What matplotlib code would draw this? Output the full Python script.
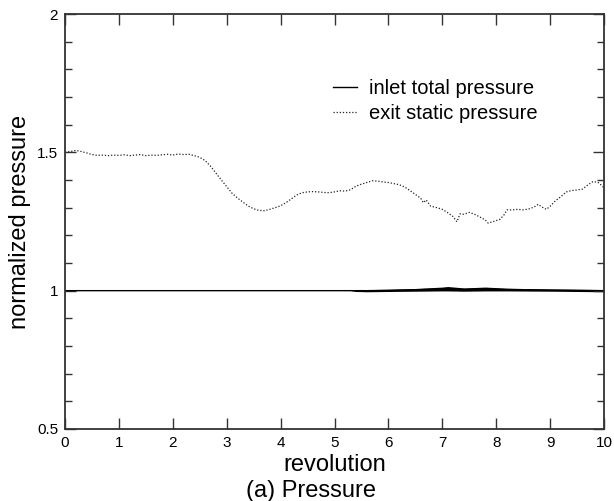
import matplotlib
matplotlib.use("Agg")
import matplotlib.pyplot as plt
from matplotlib.ticker import MultipleLocator

plt.rcParams['font.family'] = ['Liberation Sans', 'DejaVu Sans']

# exit static pressure
exit_rev = [0.0, 0.1, 0.2, 0.3, 0.4, 0.5, 0.6, 0.7, 0.8, 0.9, 1.0, 1.1, 1.2, 1.3,
            1.4, 1.5, 1.6, 1.7, 1.8, 1.9, 2.0, 2.1, 2.2, 2.3, 2.4, 2.5, 2.6, 2.7,
            2.8, 2.9, 3.0, 3.1, 3.2, 3.3, 3.4, 3.5, 3.6, 3.7, 3.8, 3.9, 4.0, 4.1,
            4.2, 4.3, 4.4, 4.5, 4.6, 4.7, 4.8, 4.9, 5.0, 5.1, 5.2, 5.3, 5.4, 5.5,
            5.6, 5.7, 5.8, 5.9, 6.0, 6.1, 6.2, 6.3, 6.4, 6.5, 6.6, 6.65, 6.7, 6.78,
            6.9, 7.0, 7.1, 7.2, 7.27, 7.33, 7.4, 7.5, 7.6, 7.7, 7.8, 7.85, 7.95,
            8.07, 8.15, 8.2, 8.3, 8.4, 8.5, 8.6, 8.7, 8.78, 8.85, 8.93, 9.0, 9.1,
            9.2, 9.3, 9.4, 9.5, 9.6, 9.7, 9.8, 9.9, 10.0]
exit_p = [1.500, 1.503, 1.507, 1.503, 1.498, 1.492, 1.489, 1.490, 1.488, 1.490,
          1.489, 1.491, 1.488, 1.490, 1.492, 1.488, 1.490, 1.489, 1.491, 1.493,
          1.490, 1.494, 1.492, 1.493, 1.488, 1.482, 1.470, 1.450, 1.425, 1.400,
          1.376, 1.352, 1.335, 1.320, 1.306, 1.296, 1.290, 1.289, 1.294, 1.300,
          1.307, 1.318, 1.332, 1.346, 1.354, 1.357, 1.358, 1.357, 1.355, 1.354,
          1.357, 1.361, 1.360, 1.365, 1.378, 1.385, 1.391, 1.397, 1.396, 1.393,
          1.391, 1.387, 1.383, 1.375, 1.362, 1.348, 1.334, 1.318, 1.328, 1.306,
          1.300, 1.294, 1.282, 1.268, 1.249, 1.278, 1.276, 1.283, 1.276, 1.266,
          1.255, 1.244, 1.250, 1.258, 1.275, 1.292, 1.292, 1.294, 1.292, 1.295,
          1.302, 1.312, 1.302, 1.294, 1.305, 1.325, 1.340, 1.357, 1.362, 1.364,
          1.367, 1.382, 1.395, 1.390, 1.372]

# inlet total pressure: mean level and fluctuation half-width
inlet_rev = [0.0, 5.3, 5.4, 5.6, 6.0, 6.5, 7.0, 7.1, 7.4, 7.8, 8.2, 9.0, 9.5, 10.0]
inlet_p = [1.0, 1.0, 1.0, 1.0, 1.001, 1.003, 1.006, 1.007, 1.004, 1.006, 1.004,
           1.002, 1.001, 1.0]
inlet_amp = [0.0, 0.0, 0.003, 0.004, 0.004, 0.005, 0.007, 0.008, 0.006, 0.007,
             0.005, 0.004, 0.004, 0.004]

fig = plt.figure(figsize=(6.14, 5.01), dpi=100)
ax = fig.add_axes([65/614, 1-429/501, 539/614, 415/501])

lo = [m - a for m, a in zip(inlet_p, inlet_amp)]
hi = [m + a for m, a in zip(inlet_p, inlet_amp)]
ax.fill_between(inlet_rev, lo, hi, color='black', lw=0)
ax.plot(inlet_rev, inlet_p, color='black', lw=1.0, label='inlet total pressure')
ax.plot(exit_rev, exit_p, color='#222222', lw=0.9, linestyle=(0, (1, 1.5)),
        label='exit static pressure')

ax.set_xlim(0, 10)
ax.set_ylim(0.5, 2)
ax.xaxis.set_major_locator(MultipleLocator(1))
ax.yaxis.set_minor_locator(MultipleLocator(0.1))
ax.set_yticks([0.5, 1, 1.5, 2])
ax.set_yticklabels(['0.5', '1', '1.5', '2'])
ax.tick_params(which='major', direction='in', length=8, width=1, top=True,
               right=True, labelsize=11, color='#333333', pad=5)
ax.tick_params(which='minor', direction='in', length=5, width=1, top=False,
               right=True, color='#333333')
ax.tick_params(axis='x', which='minor', bottom=False, top=False)
for s in ax.spines.values():
    s.set_linewidth(1.3)
    s.set_color('#333333')

ax.set_xlabel('revolution', fontsize=17, labelpad=3)
ax.set_ylabel('normalized pressure', fontsize=17, labelpad=4)
fig.text(310.5/614, 1-491/501, '(a) Pressure', fontsize=17, ha='center', va='center')

ax.legend(loc='upper left', bbox_to_anchor=(268/539, 1-(65)/415), frameon=False,
          fontsize=14.5, handlelength=1.2, handletextpad=0.6, labelspacing=0.3,
          borderaxespad=0, borderpad=0)

fig.savefig('out.png', dpi=100)
